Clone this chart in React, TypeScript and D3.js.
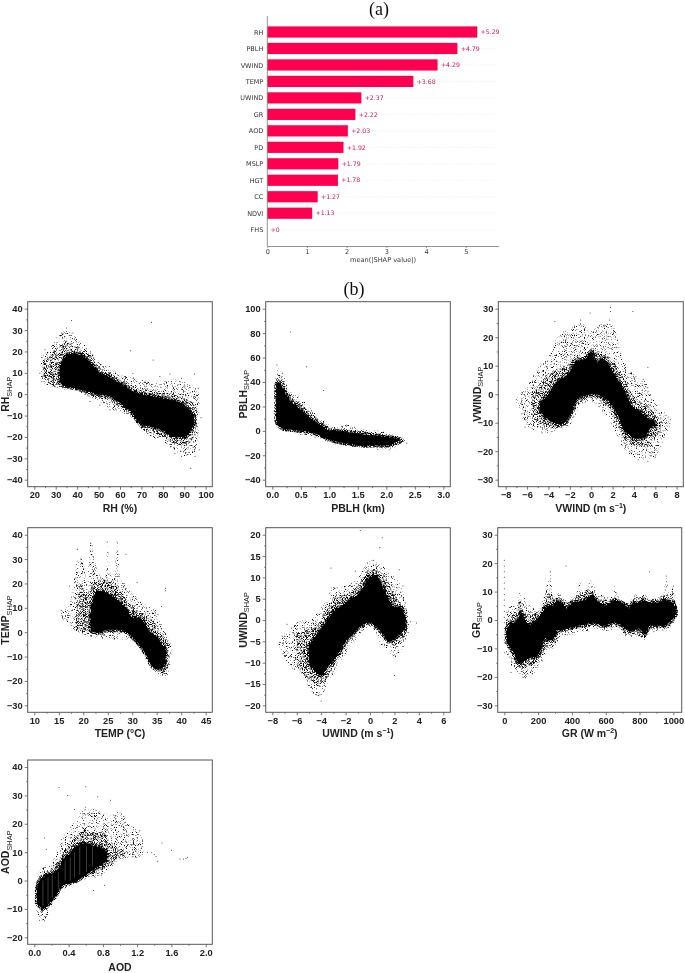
import React, { useEffect, useRef } from "react";
import * as d3 from "d3";

type Row = number[];

// ---------- (a) bar chart ----------
const FEATURES = ["RH","PBLH","VWIND","TEMP","UWIND","GR","AOD","PD","MSLP","HGT","CC","NDVI","FHS"];
const MEAN_SHAP = [5.29,4.79,4.29,3.68,2.37,2.22,2.03,1.92,1.79,1.78,1.27,1.13,0];
const BAR_TICKS = [0,1,2,3,4,5];

// ---------- (b) scatter clouds: [x, low, high] outlines, plus strays [x, y] ----------
const RH_CORE: Row[] = [[32,6,12],[34,4,17],[38,3,19],[42,2,18],[46,1,15],[50,0,10.5],[55,-1,8],[60,-4,5],[65,-8,2],[70,-14,0],[75,-15,-1],[80,-17,-2],[85,-20,-3],[90,-20,-5],[93,-17,-8],[94.5,-14,-10]];
const RH_MID: Row[] = [[24,7,16],[27,5,18],[31,3,22],[35,3,24],[40,2,22],[45,0,19],[50,-2,13],[55,-3,10],[60,-6,7],[65,-9,4],[70,-16,3],[75,-18,2],[80,-20,1],[85,-23,0],[90,-24,-2],[94,-21,-4],[96,-14,-8]];
const RH_FRINGE: Row[] = [[23,6,18],[26,4,20],[30,3.5,26],[35,2,30],[40,1.5,26],[45,-1,22],[50,-3,15],[55,-7,13],[60,-8,9],[65,-11,8],[70,-16,7],[75,-20,6],[80,-22,6],[85,-26,7],[90,-29,6],[95,-27,3],[97,-15,0]];
const RH_STRAY: Row[] = [[37.4,34.5],[74.7,33.7],[65,20.3],[75.5,16],[93,-34.7],[97.8,-11],[88.7,-29],[95,-29],[97,-26],[94.7,9.4],[83.3,9.4],[88.7,7.5],[66,9.8],[55,13],[35,31],[32.8,28.6],[38,28.6],[22.6,9.8],[25,20.8],[85,-25],[85.6,-27.6],[55.3,-7.3],[50.6,-5],[46,-3.4],[78.6,8.3],[96.5,2.8],[72.4,5]];

const PBLH_CORE: Row[] = [[0.07,9,38],[0.1,5,40],[0.15,3,38],[0.2,1.5,33],[0.3,1,25],[0.4,0.5,21],[0.5,0,17],[0.6,-0.5,13],[0.7,-1,9],[0.8,-3,6],[0.9,-5,3],[1,-7,0],[1.2,-9.5,-0.5],[1.4,-11,-1.5],[1.6,-12,-3],[1.8,-12,-4],[2,-12,-5],[2.15,-9.5,-6],[2.25,-8,-7]];
const PBLH_MID: Row[] = [[0.06,7,42],[0.12,3,46],[0.2,1,40],[0.3,0,30],[0.5,-1,22],[0.7,-2,14],[0.9,-6,6],[1.1,-9,2],[1.4,-12.5,1],[1.8,-13.5,-2],[2.1,-13,-4],[2.3,-9,-6.5]];
const PBLH_FRINGE: Row[] = [[0.06,6,46],[0.12,2,52],[0.2,0,45],[0.3,-1,33],[0.5,-3,27],[0.7,-4,17],[0.9,-8,8],[1.1,-10,3],[1.3,-12,5],[1.6,-14,1],[1.9,-15,0],[2.1,-15,-3],[2.3,-10,-6],[2.35,-9,-8]];
const PBLH_STRAY: Row[] = [[0.32,81],[0.6,52.5],[0.9,33],[0.08,54],[2.36,-10],[0.5,-3],[1.3,4],[1.85,-15],[2.05,-15.5],[0.75,-5],[1.1,-10.5]];

const VWIND_CORE: Row[] = [[-4.8,-6,-3],[-4,-9,0],[-3.5,-10,3],[-3,-10.5,5],[-2.5,-10,6],[-2,-7.5,8],[-1.5,-3,11],[-1,-1,12],[-0.5,-0.5,12.5],[0,0,15],[0.5,0,11],[1,-1,12.5],[1.5,-2,11],[2,-4,8],[2.5,-7.5,5],[3,-12,2],[3.5,-14,-2],[4,-15.5,-5],[4.5,-15.5,-6],[5,-15,-7.5],[5.5,-12,-9],[6,-11,-10]];
const VWIND_MID: Row[] = [[-5.5,-8,0],[-4.5,-11,5],[-3.5,-12,8],[-2.5,-11,10],[-1.5,-5,13],[-0.5,-1.5,14],[0,-1,16],[1,-3,14],[2,-7,12],[3,-15,6],[4,-18,-1],[5,-18,-3],[6,-15,-7],[6.5,-13,-9]];
const VWIND_FRINGE: Row[] = [[-7,-4,-1.5],[-6,-11,3],[-5,-13,9],[-4,-13.5,13],[-3,-12.5,21],[-2,-11,23],[-1,-4,25],[0,-2.5,22],[1,-6,25],[2,-11,24],[3,-19,12],[4,-22,7],[5,-23,5],[6,-22,-3],[7,-14,-7],[7.5,-10,-9]];
const VWIND_STRAY: Row[] = [[1.8,30.5],[1.8,29],[3.9,29],[-0.1,28.5],[-1,26],[-3.4,25.5],[1.2,23.8],[5.3,9.5],[-6.2,-11.5],[-6.1,-9],[-7,-1.8],[-4.6,-13.5],[4.4,-23],[5.3,-23.5],[6,-22],[3.6,-20],[7.4,-9],[-6.5,-3],[1.7,26],[-1.7,21.5]];

const TEMP_CORE: Row[] = [[21.5,1,8],[22,0,13],[23,0,17],[25,1,16],[27,1,13],[29,0,9],[30,-2,6],[31,-4,6],[32,-6.5,5],[33,-10,2],[34,-14,-1],[35,-15,-2],[36,-15,-5],[36.8,-12,-7]];
const TEMP_MID: Row[] = [[18.5,1,9],[19.5,0,20],[20.5,0,15],[21.5,0,18],[23,-1,22],[25,0,21],[27,0,19],[29,-1,13],[31,-5,9],[33,-10,7],[35,-16,3],[36,-17,-1],[37,-16,-3],[37.6,-12,-5]];
const TEMP_FRINGE: Row[] = [[15.5,5,9],[17,4,11],[18,1,20],[19,0,31],[20,-1,29],[20.8,-2,20],[21.5,-2,37],[22.2,-2,30],[23.2,-2.5,24],[24.5,-3,22],[25,-3,37],[25.6,-3,24],[26.3,-3,22],[27,-3,37],[27.6,-3,22],[28.5,-3,20],[31,-5,14],[33,-10,11],[35,-17,9],[36,-18,3],[37,-18,-1],[38,-11,-5]];
const TEMP_STRAY: Row[] = [[36.8,18],[36.8,17],[36,10.5],[26.9,37],[24.9,37],[21.5,36.5],[21.8,35.5],[18.8,34],[19.5,30],[28.7,32],[27,33],[17,7],[16.8,6],[15.5,9],[16.7,5],[31,20.5],[17.2,19]];

const UWIND_CORE: Row[] = [[-5,-10,-6],[-4.5,-12,-4],[-4,-13,-2],[-3.5,-11,0],[-3,-9.5,2],[-2.5,-7.5,3],[-2,-5,4],[-1.5,-3.5,5],[-1,-2,6],[-0.5,-1,8],[0,-0.5,10],[0.5,-1.5,10.5],[1,-3,8],[1.5,-5,5],[2,-4.5,3],[2.5,-3,3],[2.9,-2,0]];
const UWIND_MID: Row[] = [[-6,-11,-3],[-5,-14,-2],[-4,-15,0],[-3,-11,5],[-2,-6,6],[-1,-3,8],[0,-1,12],[1,-4,11],[2,-6,6],[3,-3,2]];
const UWIND_FRINGE: Row[] = [[-7.5,-6,-4.5],[-6.5,-11,-2],[-5.5,-13,0],[-5,-16,0],[-4,-18,3],[-3.5,-15,5],[-3,-13,8],[-2,-8,8],[-1,-4,10],[0,-1.5,14],[1,-6,13],[1.5,-7,11],[2,-9,10],[2.5,-8,8],[3,-4,3],[3.2,-3,-1]];
const UWIND_STRAY: Row[] = [[-0.8,21],[1,19.3],[0.8,17],[0.3,14],[-3.2,12.2],[2.4,11.8],[3.8,-0.7],[3.3,-0.4],[2,-13],[-4,-19],[-4.1,-17.5],[-7.4,-5.2],[-7,-8.5],[-6.8,-1],[-1.2,11.5],[2.7,8]];

const GR_CORE: Row[] = [[15,-8,-3],[40,-10,-1],[60,-12,-1],[80,-15,0],[100,-15,3],[130,-14,-1],[160,-13,-2],[190,-13,0],[220,-10,2],[240,-6,4],[260,-7,5],[290,-7,5],[310,-3.5,7],[340,-3.5,6],[370,-3,4],[400,-2.5,6],[440,-2,6.5],[480,-1.5,7],[520,-1,9],[560,-1.5,6],[600,-2,5],[650,-0.5,7],[700,-2,6],[740,-4,4],[760,-3.5,6],[800,-3,6],[830,-5,7],[860,-2,6],[900,-2,6],[950,-2,7],[1000,0.5,6],[1015,2,4]];
const GR_MID: Row[] = [[10,-9,0],[40,-12,1],[70,-15,3],[90,-17,8],[120,-17,2],[160,-16,2],[200,-15,3],[230,-11,5],[270,-8,10],[300,-8,7],[330,-4.5,9],[370,-4,6],[440,-3,9],[500,-2.5,11],[540,-2,8],[600,-3,7],[660,-2,8],[720,-5,6],[780,-5,8],[830,-6.5,8],[870,-3,7],[960,-3,9],[1010,0,7],[1020,1.5,4]];
const GR_FRINGE: Row[] = [[10,-11,3],[40,-16,5],[75,-18,5],[90,-19,12],[105,-20,6],[120,-21,8],[135,-20,4],[150,-20,6],[190,-18,3],[230,-14,7],[250,-11,12],[272,-10,17],[285,-10,9],[300,-10,7],[325,-6,10],[350,-6,7],[400,-5,8],[420,-5,7],[445,-4,15],[460,-4,9],[490,-4,11],[505,-4,15],[520,-3,14],[540,-3,10],[600,-4,8],[630,-4,8],[650,-3,12],[680,-4,8],[720,-6,6],[760,-6,7],[780,-6,10],[800,-6,7],[830,-7,10],[850,-5,8],[900,-4,7],[940,-4,9],[958,-4,15],[975,-3,9],[1000,-1,12],[1010,-1,7],[1020,1,5]];
const GR_STRAY: Row[] = [[0,21],[0,19],[0,17],[0,15],[0,13],[0,11],[0,9],[0,7],[0,5],[0,3],[0,1],[0,-1],[0,-3],[0,-5],[0,-7],[0,-8],[0,-11.5],[365,19],[860,17],[40,-18.5],[272,17],[958,15.5],[30,4.5],[1000,12]];

const AOD_CORE: Row[] = [[0.03,-8,-3],[0.06,-9,0],[0.1,-10,1],[0.15,-9,2],[0.2,-7,2.5],[0.25,-5.5,3],[0.3,-2.5,5],[0.35,-1.5,8],[0.4,-1,9],[0.45,-0.5,11],[0.5,0,12],[0.55,1,13],[0.6,2,13],[0.65,3,13],[0.7,4,12],[0.75,5,12],[0.8,6,11],[0.85,7,10]];
const AOD_MID: Row[] = [[0.03,-9,-1],[0.1,-11,2.5],[0.2,-8,4],[0.3,-3,8],[0.4,-1.5,13],[0.5,-0.5,16],[0.6,1,18],[0.7,2,17],[0.8,4,17],[0.9,6,13],[1.05,8,11]];
const AOD_FRINGE: Row[] = [[0.02,-9,-2],[0.05,-14,3],[0.12,-14,5],[0.2,-9,6],[0.3,-4,14],[0.4,-2,18],[0.5,-1,22],[0.6,0.5,26],[0.7,1,25],[0.8,2,24],[0.9,5,23],[1,7,25],[1.1,8,20],[1.2,8,18],[1.27,9,14]];
const AOD_STRAY: Row[] = [[0.29,32.8],[0.39,30],[0.6,33],[0.74,29.5],[0.89,28.3],[0.47,25],[0.12,15],[0.14,11],[1.49,13.2],[1.6,10.7],[1.7,7.6],[1.74,7.6],[1.77,7.8],[1.79,8.2],[1.42,8.5],[1.4,9.2],[1.44,6.8],[1.32,10],[1.37,9.8],[0.69,-3.5],[0.82,-1.7],[0.06,-14],[0.12,-14.2],[1.23,17.5]];
const AOD_GAPS: Row[] = [[0.1,-9,0],[0.16,-8,1],[0.21,-6,2],[0.28,-3,3],[0.36,0,7],[0.42,0,8],[0.47,1,10],[0.53,2,12],[0.61,3,12],[0.68,5,12]];

// ---------- panel tick lists ----------
const RH_XT = [20,30,40,50,60,70,80,90,100];
const RH_YT = [-40,-30,-20,-10,0,10,20,30,40];
const PBLH_XT = [0,0.5,1,1.5,2,2.5,3];
const PBLH_YT = [-40,-20,0,20,40,60,80,100];
const VWIND_XT = [-8,-6,-4,-2,0,2,4,6,8];
const VWIND_YT = [-30,-20,-10,0,10,20,30];
const TEMP_XT = [10,15,20,25,30,35,40,45];
const TEMP_YT = [-30,-20,-10,0,10,20,30,40];
const UWIND_XT = [-8,-6,-4,-2,0,2,4,6];
const UWIND_YT = [-20,-15,-10,-5,0,5,10,15,20];
const GR_XT = [0,200,400,600,800,1000];
const GR_YT = [-30,-20,-10,0,10,20,30];
const AOD_XT = [0,0.4,0.8,1.2,1.6,2];
const AOD_YT = [-20,-10,0,10,20,30,40];

const W = 685, H = 973;
const R1 = [301.7, 486.7], R2 = [527.7, 712.3], R3 = [760, 944.3];
const C1 = [27.7, 212.3], C2 = [265.7, 450.3], C3 = [498.3, 683.3];
const FONT = "'Liberation Sans', Arial, sans-serif";

type Cfg = {
  name: string; xlab: React.ReactNode; col: number[]; row: number[];
  xT: number[]; yT: number[]; xR: number[]; labelX: number; digits: number; xlabDy: number;
  core: Row[]; mid: Row[]; fringe: Row[]; stray: Row[]; gaps?: Row[]; jagged?: boolean;
};

const sup = (a: string, b: string) => (
  <>{a}<tspan dy={-4} fontSize={7}>{b}</tspan><tspan dy={4}>)</tspan></>
);

const PANELS: Cfg[] = [
  { name:"RH", xlab:"RH (%)", col:C1, row:R1, xT:RH_XT, yT:RH_YT, xR:[34.3,205.7], labelX:9, digits:0, xlabDy:25, core:RH_CORE, mid:RH_MID, fringe:RH_FRINGE, stray:RH_STRAY },
  { name:"PBLH", xlab:"PBLH (km)", col:C2, row:R1, xT:PBLH_XT, yT:PBLH_YT, xR:[272.3,443.3], labelX:246.5, digits:1, xlabDy:25, core:PBLH_CORE, mid:PBLH_MID, fringe:PBLH_FRINGE, stray:PBLH_STRAY },
  { name:"VWIND", xlab:sup("VWIND (m s","−1"), col:C3, row:R1, xT:VWIND_XT, yT:VWIND_YT, xR:[505.7,676.7], labelX:480.5, digits:0, xlabDy:25, core:VWIND_CORE, mid:VWIND_MID, fringe:VWIND_FRINGE, stray:VWIND_STRAY },
  { name:"TEMP", xlab:"TEMP (°C)", col:C1, row:R2, xT:TEMP_XT, yT:TEMP_YT, xR:[34.3,205.7], labelX:9, digits:0, xlabDy:25, core:TEMP_CORE, mid:TEMP_MID, fringe:TEMP_FRINGE, stray:TEMP_STRAY },
  { name:"UWIND", xlab:sup("UWIND (m s","−1"), col:C2, row:R2, xT:UWIND_XT, yT:UWIND_YT, xR:[272.3,443.3], labelX:246.5, digits:0, xlabDy:25, core:UWIND_CORE, mid:UWIND_MID, fringe:UWIND_FRINGE, stray:UWIND_STRAY },
  { name:"GR", xlab:sup("GR (W m","−2"), col:[497.7,681.7], row:R2, xT:GR_XT, yT:GR_YT, xR:[504.3,673.3], labelX:479.5, digits:0, xlabDy:25, core:GR_CORE, mid:GR_MID, fringe:GR_FRINGE, stray:GR_STRAY, jagged:true },
  { name:"AOD", xlab:"AOD", col:C1, row:R3, xT:AOD_XT, yT:AOD_YT, xR:[34.3,205.7], labelX:9, digits:1, xlabDy:27, core:AOD_CORE, mid:AOD_MID, fringe:AOD_FRINGE, stray:AOD_STRAY, gaps:AOD_GAPS },
];

const midpoints = (t: number[]) => d3.pairs(t).map(([a, b]) => (a + b) / 2);

function Panel({ c, i }: { c: Cfg; i: number }) {
  const ref = useRef<SVGGElement>(null);
  const [l, r] = c.col, [t, b] = c.row;
  const x = d3.scaleLinear().domain([c.xT[0], c.xT[c.xT.length - 1]]).range(c.xR);
  const y = d3.scaleLinear().domain([c.yT[0], c.yT[c.yT.length - 1]]).range([b - 7, t + 7]);
  const fmtX = (d: d3.NumberValue) => (+d).toFixed(c.digits).replace("-", "−");
  const fmtY = (d: d3.NumberValue) => (+d).toFixed(0).replace("-", "−");
  const area = d3.area<Row>().x(d => x(d[0])).y0(d => y(d[1])).y1(d => y(d[2]))
    .curve(c.jagged ? d3.curveLinear : d3.curveMonotoneX);

  useEffect(() => {
    const g = d3.select(ref.current!);
    g.selectAll("*").remove();
    const style = (s: any) => {
      s.select(".domain").remove();
      s.selectAll("line").attr("stroke", "#555").attr("stroke-width", 0.8);
      s.selectAll("text").attr("font-family", FONT).attr("font-weight", 700).attr("font-size", 9.3).attr("fill", "#222");
    };
    g.append("g").attr("transform", `translate(0,${b})`)
      .call(d3.axisBottom(x).tickValues(c.xT).tickSize(3).tickPadding(2).tickFormat(fmtX) as any).call(style);
    g.append("g").attr("transform", `translate(0,${b})`)
      .call(d3.axisBottom(x).tickValues(midpoints(c.xT)).tickSize(1.5).tickFormat(() => "") as any).call(style);
    g.append("g").attr("transform", `translate(${l},0)`)
      .call(d3.axisLeft(y).tickValues(c.yT).tickSize(3).tickPadding(2).tickFormat(fmtY) as any).call(style);
    g.append("g").attr("transform", `translate(${l},0)`)
      .call(d3.axisLeft(y).tickValues(midpoints(c.yT)).tickSize(1.5).tickFormat(() => "") as any).call(style);
  }, []);

  const cy = (t + b) / 2;
  return (
    <g>
      <clipPath id={`clip${i}`}><rect x={l} y={t} width={r - l} height={b - t} /></clipPath>
      <g clipPath={`url(#clip${i})`}>
        <path d={area(c.fringe)!} fill="#000" filter="url(#grainSparse)" />
        <path d={area(c.mid)!} fill="#000" filter="url(#grainMid)" />
        <path d={area(c.core)!} fill="#000" stroke="#000" strokeWidth={4} strokeLinejoin="round" filter="url(#grainDense)" />
        <path d={area(c.core)!} fill="#000" />
        {c.stray.map((p, k) => <circle key={k} cx={x(p[0])} cy={y(p[1])} r={0.5} fill="#222" />)}
        {c.gaps?.map((p, k) => (
          <line key={k} x1={x(p[0])} x2={x(p[0])} y1={y(p[1])} y2={y(p[2])} stroke="#fff" strokeOpacity={0.4} strokeWidth={0.6} />
        ))}
      </g>
      <rect x={l} y={t} width={r - l} height={b - t} fill="none" stroke="#555" strokeWidth={1} />
      <g ref={ref} />
      <text x={(l + r) / 2} y={b + c.xlabDy} textAnchor="middle" fontFamily={FONT} fontWeight={700} fontSize={10.5} fill="#222">{c.xlab}</text>
      <text transform={`translate(${c.labelX},${cy}) rotate(-90)`} textAnchor="middle" fontFamily={FONT} fontWeight={700} fontSize={10.5} fill="#222">
        {c.name}<tspan dy={2.5} fontSize={7.4} fontWeight={400}>SHAP</tspan>
      </text>
    </g>
  );
}

function BarChart() {
  const ref = useRef<SVGGElement>(null);
  const L = 267.3, Rt = 498.7, B = 246, T = 16;
  const x = d3.scaleLinear().domain([0, 5.83]).range([L, Rt]);
  const y = d3.scalePoint<string>().domain(FEATURES).range([32, 229.7]);
  useEffect(() => {
    const g = d3.select(ref.current!);
    g.selectAll("*").remove();
    const style = (s: any) => {
      s.selectAll("line").attr("stroke", "#777").attr("stroke-width", 0.7);
      s.select(".domain").attr("stroke", "#777").attr("stroke-width", 0.8);
      s.selectAll("text").attr("font-family", "'DejaVu Sans', sans-serif").attr("font-size", 6.5).attr("fill", "#333");
    };
    g.append("g").attr("transform", `translate(0,${B})`)
      .call(d3.axisBottom(x).tickValues(BAR_TICKS).tickSize(2).tickPadding(1.5).tickSizeOuter(0).tickFormat(d3.format("d")) as any).call(style);
    g.append("g").attr("transform", `translate(${L},0)`)
      .call(d3.axisLeft(y).tickSize(0).tickPadding(4) as any).call(style);
    g.selectAll(".domain").filter((_, k) => k === 1).attr("d", `M0,${T}V${B}`);
  }, []);
  return (
    <g filter="url(#softer)">
      {FEATURES.map((f) => (
        <line key={f} x1={L} x2={Rt} y1={y(f)} y2={y(f)} stroke="#ddd" strokeWidth={0.6} strokeDasharray="1 2" />
      ))}
      {FEATURES.map((f, i) => (
        <g key={f}>
          {MEAN_SHAP[i] > 0 && <rect x={L} y={y(f)! - 5.6} width={x(MEAN_SHAP[i]) - L} height={11.2} fill="#ff0051" />}
          <text x={x(MEAN_SHAP[i]) + 3.3} y={y(f)! + 2.2} fontFamily="'DejaVu Sans', sans-serif" fontSize={6.2} fill="#d6115a">+{MEAN_SHAP[i]}</text>
        </g>
      ))}
      <g ref={ref} />
      <text x={383} y={262.3} textAnchor="middle" fontFamily="'DejaVu Sans', sans-serif" fontSize={6.6} fill="#333">mean(|SHAP value|)</text>
    </g>
  );
}

// speckle texture for the thinner parts of a cloud: "gain" and "cut" set how much of the noise is kept
function Grain({ id, freq, gain, cut, seed }: { id: string; freq: number; gain: number; cut: number; seed: number }) {
  return (
    <filter id={id} x="-15%" y="-15%" width="130%" height="130%" colorInterpolationFilters="sRGB">
      <feTurbulence type="fractalNoise" baseFrequency={freq} numOctaves={2} seed={seed} result="n" />
      <feColorMatrix in="n" type="matrix" values={`0 0 0 0 0  0 0 0 0 0  0 0 0 0 0  ${gain} 0 0 0 ${-cut}`} result="s" />
      <feComposite in="s" in2="SourceGraphic" operator="in" />
    </filter>
  );
}

export default function App() {
  return (
    <svg width={W} height={H} viewBox={`0 0 ${W} ${H}`} style={{ position: "fixed", left: 0, top: 0, background: "#fff", display: "block" }}>
      <defs>
        <filter id="soft" x="-5%" y="-5%" width="110%" height="110%"><feGaussianBlur stdDeviation="0.4" /></filter>
        <filter id="softer" x="-5%" y="-5%" width="110%" height="110%"><feGaussianBlur stdDeviation="0.35" /></filter>
        <Grain id="grainSparse" freq={1.1} gain={5} cut={2.8} seed={4} />
        <Grain id="grainMid" freq={1.1} gain={5} cut={2.35} seed={9} />
        <Grain id="grainDense" freq={1.1} gain={5} cut={1.95} seed={13} />
      </defs>
      <g filter="url(#soft)">
        <text x={379} y={15} textAnchor="middle" fontFamily="'Liberation Serif', serif" fontSize={18} fill="#111">(a)</text>
        <text x={354} y={295} textAnchor="middle" fontFamily="'Liberation Serif', serif" fontSize={18} fill="#111">(b)</text>
        <BarChart />
        {PANELS.map((c, i) => <Panel key={c.name} c={c} i={i} />)}
      </g>
    </svg>
  );
}
